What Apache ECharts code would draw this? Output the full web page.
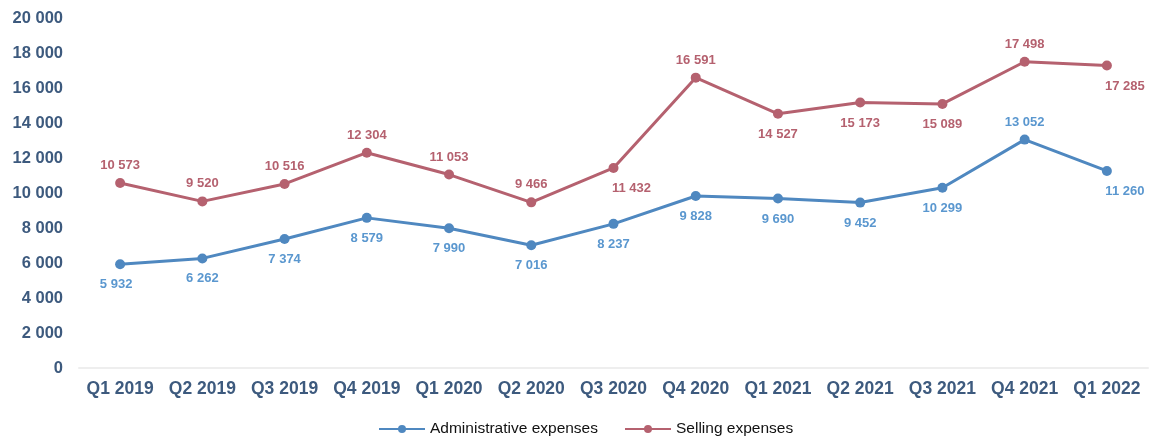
<!DOCTYPE html>
<html><head><meta charset="utf-8">
<script src="https://cdn.jsdelivr.net/npm/echarts@6/dist/echarts.min.js"></script>
<style>html,body{margin:0;padding:0;background:#fff}#c{width:1155px;height:439px}</style>
</head><body><div id="c"></div>
<script>
const categories = ['Q1 2019','Q2 2019','Q3 2019','Q4 2019','Q1 2020','Q2 2020','Q3 2020','Q4 2020','Q1 2021','Q2 2021','Q3 2021','Q4 2021','Q1 2022'];
const adminValues = [5932, 6262, 7374, 8579, 7990, 7016, 8237, 9828, 9690, 9452, 10299, 13052, 11260];
const sellingValues = [10573, 9520, 10516, 12304, 11053, 9466, 11432, 16591, 14527, 15173, 15089, 17498, 17285];
const adminLabelPos = ['bottom','bottom','bottom','bottom','bottom','bottom','bottom','bottom','bottom','bottom','bottom','top','bottom'];
const sellingLabelPos = ['top','top','top','top','top','top','bottom','top','bottom','bottom','bottom','top','bottom'];
const yTicks = [0, 2000, 4000, 6000, 8000, 10000, 12000, 14000, 16000, 18000, 20000];

const fmt = v => String(v).replace(/\B(?=(\d{3})+(?!\d))/g, ' ');
const blue = '#4f88c0', red = '#b5616f';
const font = 'Liberation Sans, Arial, sans-serif';

function mk(vals, pos, color) {
  return vals.map((v, i) => {
    const p = pos[i];
    const lab = { position: p, distance: p === 'bottom' ? 9 : 6 };
    if (i === vals.length - 1 || (color === red && i === 6)) { lab.offset = [18, 0]; }
    if (i === 0 && color === blue) lab.offset = [-4, 0];
    return { value: v, label: lab };
  });
}

const chart = echarts.init(document.getElementById('c'));
chart.setOption({
  animation: false,
  grid: { left: 79, right: 7, top: 18, bottom: 71 },
  legend: {
    top: 416, left: 373, itemWidth: 46, itemHeight: 10, itemGap: 26,
    textStyle: { color: '#111', fontSize: 15.5, fontFamily: font },
    data: ['Administrative expenses', 'Selling expenses']
  },
  xAxis: {
    type: 'category', data: categories, boundaryGap: true,
    axisLine: { show: true, lineStyle: { color: '#eeeeee', width: 2 } },
    axisTick: { show: false },
    axisLabel: { interval: 0, color: '#3d5a7e', fontSize: 17.5, fontWeight: 'bold', fontFamily: font, margin: 12 }
  },
  yAxis: {
    type: 'value', min: yTicks[0], max: yTicks[yTicks.length - 1], interval: 2000,
    splitLine: { show: false },
    axisLine: { show: false }, axisTick: { show: false },
    axisLabel: { color: '#3d5a7e', fontSize: 16.5, fontWeight: 'bold', fontFamily: font, margin: 16, formatter: v => fmt(v) }
  },
  series: [
    {
      name: 'Administrative expenses', type: 'line', data: mk(adminValues, adminLabelPos, blue),
      symbol: 'circle', symbolSize: 10,
      lineStyle: { color: blue, width: 3 }, itemStyle: { color: blue },
      label: { show: true, color: '#5a97cf', fontSize: 13, fontWeight: 'bold', fontFamily: font, formatter: p => fmt(p.value) }
    },
    {
      name: 'Selling expenses', type: 'line', data: mk(sellingValues, sellingLabelPos, red),
      symbol: 'circle', symbolSize: 10,
      lineStyle: { color: red, width: 3 }, itemStyle: { color: red },
      label: { show: true, color: '#b5616f', fontSize: 13, fontWeight: 'bold', fontFamily: font, formatter: p => fmt(p.value) }
    }
  ]
});
</script></body></html>
